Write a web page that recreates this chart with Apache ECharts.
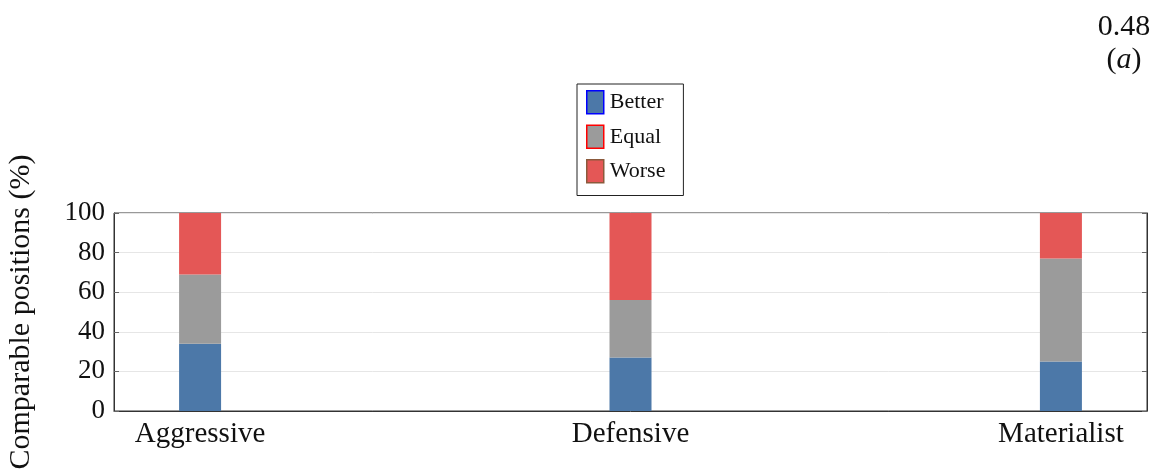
<!DOCTYPE html>
<html>
<head>
<meta charset="utf-8">
<script src="https://cdn.jsdelivr.net/npm/echarts@6/dist/echarts.min.js"></script>
<style>
  html, body { margin: 0; padding: 0; background: #fff; }
  #chart { width: 1152px; height: 474px; }
</style>
</head>
<body>
<div id="chart"></div>
<script>
// Share of comparable positions per playing style (%)
const categories = ['Aggressive', 'Defensive', 'Materialist'];
const better = [34, 27, 25];
const equal = [35, 29, 52];
const worse = [31, 44, 23];
const yTicks = [0, 20, 40, 60, 80, 100];

const serif = '"Liberation Serif", "DejaVu Serif", serif';
const colors = { better: '#4c78a8', equal: '#9b9b9b', worse: '#e45756' };

// value first, category position second, so the stack runs along y
const toPoints = vals => categories.map((c, i) => [vals[i], i]);

const chart = echarts.init(document.getElementById('chart'), null, { renderer: 'canvas' });

const yAxisBase = {
  type: 'value',
  min: yTicks[0],
  max: yTicks[yTicks.length - 1],
  interval: 20,
  axisLine: { show: true, onZero: false, lineStyle: { color: '#333', width: 1 } },
  axisTick: { show: true, inside: true, length: 5, lineStyle: { color: '#666' } }
};

chart.setOption({
  animation: false,
  backgroundColor: '#fff',
  grid: {
    left: 114, right: 5, top: 213, bottom: 63,
    outerBoundsMode: 'none',
    containLabel: false,
    show: true, borderColor: '#333', borderWidth: 1, backgroundColor: 'transparent'
  },
  legend: {
    orient: 'vertical',
    left: 577, top: 84,
    padding: [6, 18, 12, 9],
    itemGap: 10,
    itemWidth: 17,
    itemHeight: 23,
    icon: 'rect',
    borderColor: '#222', borderWidth: 1,
    textStyle: { fontFamily: serif, fontSize: 22, color: '#111', padding: [0, 0, 0, 1] },
    data: [
      { name: 'Better', itemStyle: { borderColor: '#0000ff', borderWidth: 1.5 } },
      { name: 'Equal', itemStyle: { borderColor: '#ff0000', borderWidth: 1.5 } },
      { name: 'Worse', itemStyle: { borderColor: '#8b5a3c', borderWidth: 1.5 } }
    ]
  },
  xAxis: {
    type: 'value',
    min: -0.2,
    max: 2.2,
    axisLine: { show: true, onZero: false, lineStyle: { color: '#333', width: 1 } },
    axisTick: { show: false },
    splitLine: { show: false },
    axisLabel: {
      customValues: categories.map((c, i) => i),
      formatter: v => categories[Math.round(v)],
      fontFamily: serif, fontSize: 29, color: '#111', margin: 9
    }
  },
  yAxis: [
    Object.assign({}, yAxisBase, {
      position: 'left',
      name: 'Comparable positions (%)',
      nameLocation: 'middle',
      nameGap: 78,
      nameTextStyle: { fontFamily: serif, fontSize: 30, color: '#111' },
      splitLine: { show: true, lineStyle: { color: '#e6e6e6', width: 1 } },
      axisLabel: { fontFamily: serif, fontSize: 27, color: '#111', margin: 9 }
    }),
    Object.assign({}, yAxisBase, {
      position: 'right',
      splitLine: { show: false },
      axisLabel: { show: false }
    })
  ],
  series: [
    { name: 'Better', data: toPoints(better), color: colors.better },
    { name: 'Equal', data: toPoints(equal), color: colors.equal },
    { name: 'Worse', data: toPoints(worse), color: colors.worse }
  ].map(s => Object.assign({
    type: 'bar',
    stack: 'total',
    barWidth: 42,
    yAxisIndex: 0,
    encode: { x: 1, y: 0 },
    itemStyle: { color: s.color }
  }, s)),
  graphic: [
    {
      type: 'text', x: 1124, y: 27,
      style: { text: '0.48', fontFamily: serif, fontSize: 30, fill: '#111', align: 'center', verticalAlign: 'middle' }
    },
    {
      type: 'text', x: 1124, y: 60,
      style: {
        text: '({i|a})', fontFamily: serif, fontSize: 30, fill: '#111', align: 'center', verticalAlign: 'middle',
        rich: { i: { fontFamily: serif, fontSize: 30, fontStyle: 'italic', fill: '#111' } }
      }
    }
  ]
});
</script>
</body>
</html>
